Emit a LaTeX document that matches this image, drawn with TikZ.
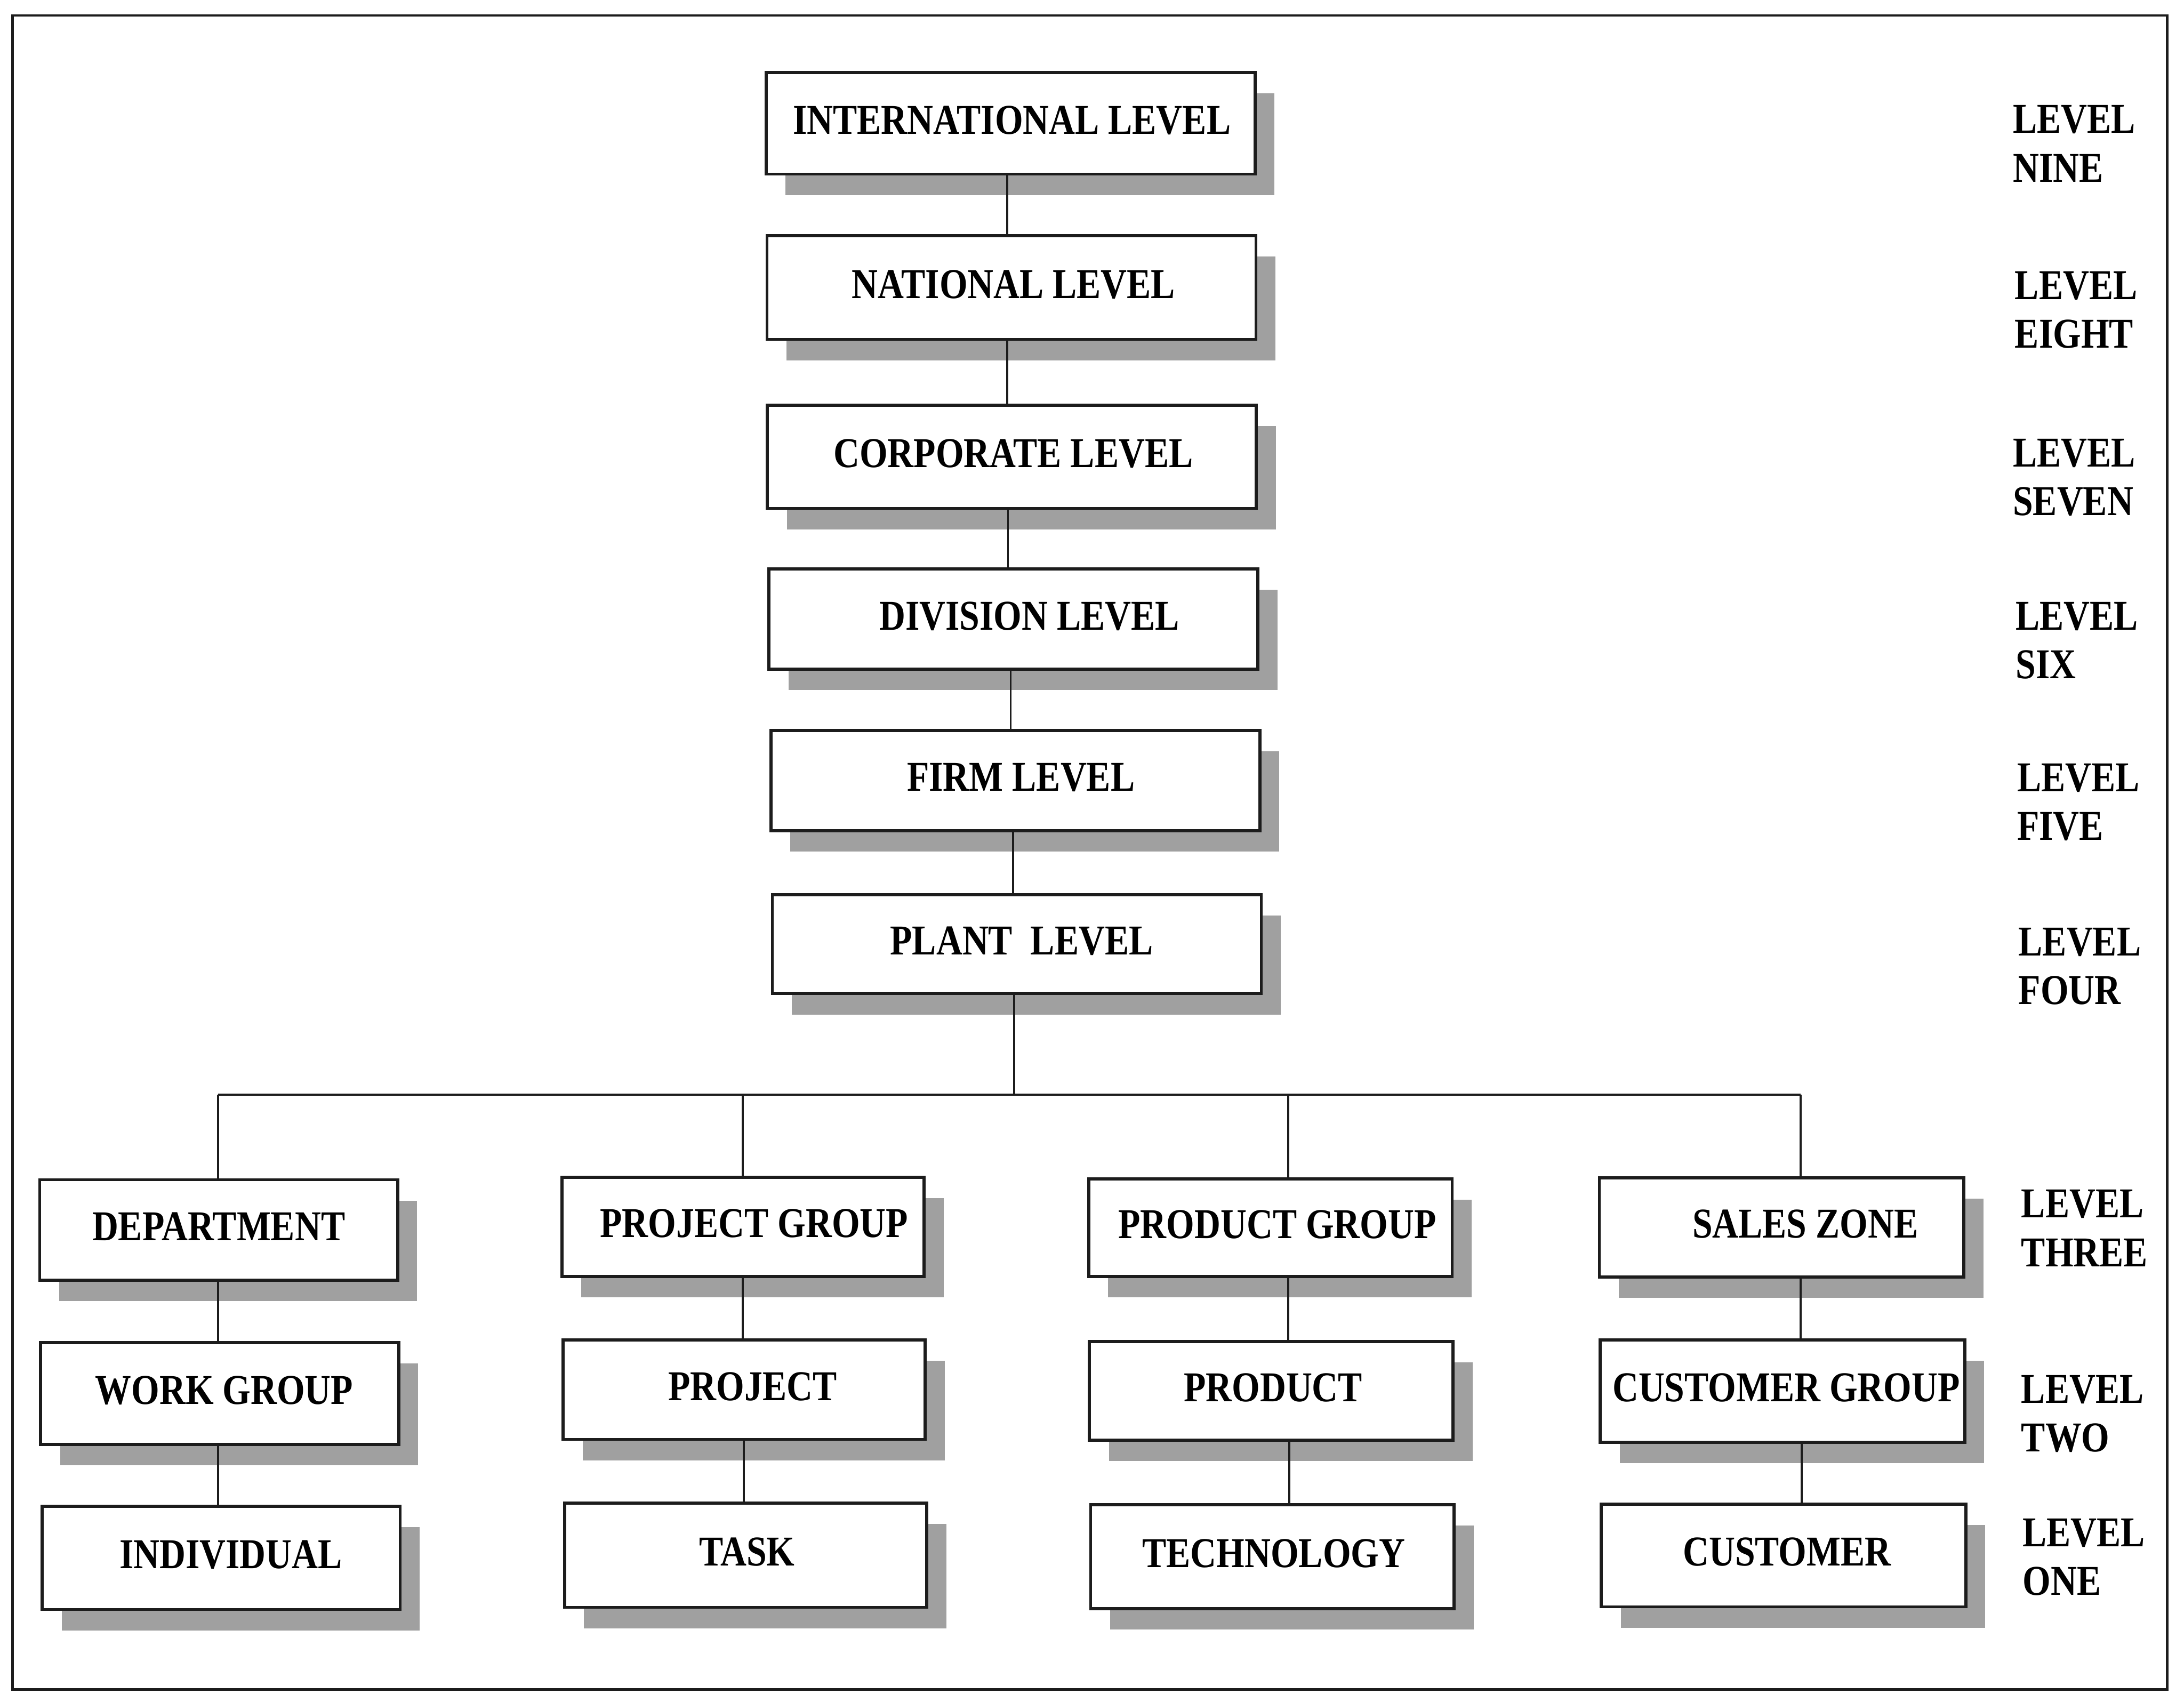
\documentclass[tikz,border=0pt]{standalone}
\usepackage{fontspec}
\setmainfont{Liberation Serif}[FakeStretch=0.85]
\usetikzlibrary{shadows}
\definecolor{ink}{RGB}{28,28,28}
\definecolor{shade}{RGB}{160,160,160}
\tikzset{
  unitbox/.style={draw=ink, line width=2.2pt, fill=white, inner sep=0pt,
    drop shadow={shadow xshift=14pt, shadow yshift=-15pt, opacity=1, fill=shade}},
  topbox/.style={unitbox, minimum width=351pt, minimum height=73pt},
  lowbox/.style={unitbox, minimum width=260pt, minimum height=72pt},
  boxtext/.style={font=\fontsize{30.5}{35}\selectfont\bfseries, text=black,
    inner sep=0pt, text depth=0pt},
  levtext/.style={font=\fontsize{30.5}{35}\selectfont\bfseries, text=black,
    inner sep=0pt, align=left, anchor=north west},
  link/.style={draw=ink, line width=1.5pt},
  frame/.style={draw=ink, line width=1.7pt},
}
\begin{document}
\begin{tikzpicture}[x=1pt, y=-1pt]
\useasboundingbox (0,0) rectangle (1568,1216);
\draw[frame] (9,11) rectangle (1556,1213);

% organisational chain, top to bottom
\node[topbox, minimum height=73pt, label={[boxtext, name=intl-t, xshift=1pt, yshift=2.5pt]center:INTERNATIONAL LEVEL}] (intl) at (725.5,88.5) {};
\node[topbox, minimum height=74.5pt, label={[boxtext, name=natl-t, xshift=1.5pt, yshift=2.5pt]center:NATIONAL LEVEL}] (natl) at (726.2,206.4) {};
\node[topbox, minimum height=74pt, label={[boxtext, name=corp-t, xshift=1pt, yshift=2.5pt]center:CORPORATE LEVEL}] (corp) at (726.5,328) {};
\node[topbox, minimum height=72pt, label={[boxtext, name=div-t, xshift=11.5pt, yshift=2.5pt]center:DIVISION LEVEL}] (div) at (727.6,444.5) {};
\node[topbox, minimum height=72pt, label={[boxtext, name=firm-t, xshift=4pt, yshift=2.5pt]center:FIRM LEVEL}] (firm) at (729,560.5) {};
\node[topbox, minimum height=71pt, label={[boxtext, name=plant-t, xshift=3.5pt, yshift=2.5pt]center:PLANT~~LEVEL}] (plant) at (730,677.8) {};

% four branches below the plant
\node[lowbox, minimum width=257pt, label={[boxtext, name=dept-t, xshift=0pt, yshift=2.5pt]center:DEPARTMENT}] (dept) at (157,883) {};
\node[lowbox, minimum width=257pt, minimum height=73pt, label={[boxtext, name=work-t, xshift=3.3pt, yshift=2.5pt]center:WORK GROUP}] (work) at (157.7,1000.5) {};
\node[lowbox, minimum width=257pt, minimum height=74pt, label={[boxtext, name=indiv-t, xshift=7pt, yshift=2.5pt]center:INDIVIDUAL}] (indiv) at (158.8,1118.5) {};

\node[lowbox, minimum height=71.4pt, label={[boxtext, name=pgrp-t, xshift=8pt, yshift=2.5pt]center:PROJECT GROUP}] (pgrp) at (533.4,880.8) {};
\node[lowbox, minimum height=71.3pt, label={[boxtext, name=proj-t, xshift=6pt, yshift=2.5pt]center:PROJECT}] (proj) at (534.3,997.7) {};
\node[lowbox, minimum height=75pt, label={[boxtext, name=task-t, xshift=1pt, yshift=2.5pt]center:TASK}] (task) at (535.3,1116.5) {};

\node[lowbox, minimum width=261pt, minimum height=70.3pt, label={[boxtext, name=prodg-t, xshift=5pt, yshift=2.5pt]center:PRODUCT GROUP}] (prodg) at (912.1,881.4) {};
\node[lowbox, minimum width=261pt, minimum height=71pt, label={[boxtext, name=prod-t, xshift=1.3pt, yshift=2.5pt]center:PRODUCT}] (prod) at (912.7,998.5) {};
\node[lowbox, minimum width=261pt, minimum height=74.6pt, label={[boxtext, name=tech-t, xshift=1pt, yshift=2.5pt]center:TECHNOLOGY}] (tech) at (913.5,1117.5) {};

\node[lowbox, minimum width=261.7pt, minimum height=71.3pt, label={[boxtext, name=sales-t, xshift=17pt, yshift=2.5pt]center:SALES ZONE}] (sales) at (1279.1,881.2) {};
\node[lowbox, minimum width=261.7pt, minimum height=73.4pt, label={[boxtext, name=cgrp-t, xshift=2.7pt, yshift=2.5pt]center:CUSTOMER GROUP}] (cgrp) at (1279.7,998.7) {};
\node[lowbox, minimum width=261.7pt, minimum height=73.7pt, label={[boxtext, name=cust-t, xshift=2.5pt, yshift=2.5pt]center:CUSTOMER}] (cust) at (1280.5,1116.7) {};

% level captions on the right
\node[levtext] (l9) at (1445,75.4) {LEVEL\\NINE};
\node[levtext] (l8) at (1446.4,194.7) {LEVEL\\EIGHT};
\node[levtext] (l7) at (1445,315) {LEVEL\\SEVEN};
\node[levtext] (l6) at (1447,432) {LEVEL\\SIX};
\node[levtext] (l5) at (1448,548) {LEVEL\\FIVE};
\node[levtext] (l4) at (1449,666) {LEVEL\\FOUR};
\node[levtext] (l3) at (1451,854) {LEVEL\\THREE};
\node[levtext] (l2) at (1451,987) {LEVEL\\TWO};
\node[levtext] (l1) at (1452,1090) {LEVEL\\ONE};

% connector columns and the branching bus
\coordinate (bus) at (728,786);
\coordinate (c1) at (156.5,786);
\coordinate (c2) at (533.2,786);
\coordinate (c3) at (925,786);
\coordinate (c4) at (1292.8,786);

\draw[link] ([xshift=-2.5pt]intl.south) -- ([xshift=-2.5pt]intl.south |- natl.north);
\draw[link] ([xshift=-3pt]natl.south) -- ([xshift=-3pt]natl.south |- corp.north);
\draw[link] ([xshift=-2.8pt]corp.south) -- ([xshift=-2.8pt]corp.south |- div.north);
\draw[link] ([xshift=-2pt]div.south) -- ([xshift=-2pt]div.south |- firm.north);
\draw[link] ([xshift=-1.7pt]firm.south) -- ([xshift=-1.7pt]firm.south |- plant.north);
\draw[link] (plant.south -| bus) -- (bus);
\draw[link] (c1) -- (c4);

\draw[link] (c1) -- (c1 |- dept.north);
\draw[link] (dept.south -| c1) -- (work.north -| c1);
\draw[link] (work.south -| c1) -- (indiv.north -| c1);

\draw[link] (c2) -- (c2 |- pgrp.north);
\draw[link] (pgrp.south -| c2) -- (proj.north -| c2);
\draw[link] ([xshift=0.8pt]proj.south -| c2) -- ([xshift=0.8pt]task.north -| c2);

\draw[link] (c3) -- (c3 |- prodg.north);
\draw[link] (prodg.south -| c3) -- (prod.north -| c3);
\draw[link] ([xshift=0.8pt]prod.south -| c3) -- ([xshift=0.8pt]tech.north -| c3);

\draw[link] (c4) -- (c4 |- sales.north);
\draw[link] (sales.south -| c4) -- (cgrp.north -| c4);
\draw[link] ([xshift=0.6pt]cgrp.south -| c4) -- ([xshift=0.6pt]cust.north -| c4);
\end{tikzpicture}
\end{document}
